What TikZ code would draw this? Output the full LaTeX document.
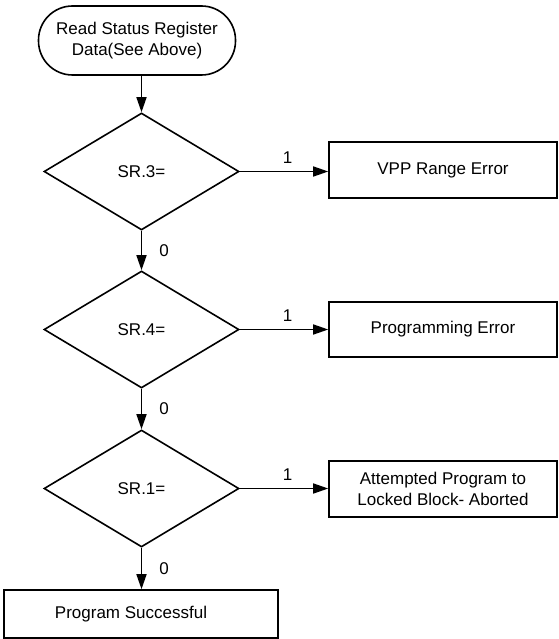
\documentclass[tikz,border=0pt]{standalone}
\usepackage{fontspec}
\setmainfont{Liberation Sans}
\usetikzlibrary{shapes.geometric,arrows.meta}
\begin{document}
\begin{tikzpicture}[x=1pt,y=-1pt,
  every node/.style={font=\fontsize{17}{21}\selectfont},
  base/.style={draw,line width=1.6pt,inner sep=0pt,align=center},
  startbox/.style={base,rectangle,rounded corners=34pt,minimum width=197pt,minimum height=69pt},
  decision/.style={base,diamond,minimum width=195pt,minimum height=117pt},
  procbox/.style={base,rectangle,minimum width=228pt,minimum height=56pt},
  flow/.style={line width=1.6pt,-{Triangle[length=15pt,width=10pt]}},
  lbl/.style={inner sep=0pt}
]
\useasboundingbox (0,0) rectangle (558,639);

\node[startbox] (start) at (137,40.5) {Read Status Register\\Data(See Above)};
\node[decision] (d1) at (141.5,171.5) {SR.3=};
\node[decision] (d2) at (141.5,329.5) {SR.4=};
\node[decision] (d3) at (141.5,488.5) {SR.1=};
\node[procbox] (b1) at (443,170) {VPP Range Error};
\node[procbox,minimum height=55pt] (b2) at (443,329.5) {Programming Error};
\node[procbox] (b3) at (443,489) {Attempted Program to\\Locked Block- Aborted};
\node[procbox,minimum width=274pt,minimum height=48pt] (b4) at (141,614) {Program Successful\hspace*{20pt}};

\draw[flow] (start.south -| d1.north) -- (d1.north);
\draw[flow] (d1.south) -- (d2.north) node[lbl,midway,anchor=west,xshift=17pt] {0};
\draw[flow] (d2.south) -- (d3.north) node[lbl,midway,anchor=west,xshift=17pt] {0};
\draw[flow] (d3.south) -- (d3.south |- b4.north) node[lbl,midway,anchor=west,xshift=17pt] {0};

\draw[flow] (d1.east) -- (d1.east -| b1.west) node[lbl,pos=0.54,above=7pt] {1};
\draw[flow] (d2.east) -- (d2.east -| b2.west) node[lbl,pos=0.54,above=7pt] {1};
\draw[flow] (d3.east) -- (d3.east -| b3.west) node[lbl,pos=0.54,above=7pt] {1};
\end{tikzpicture}
\end{document}
